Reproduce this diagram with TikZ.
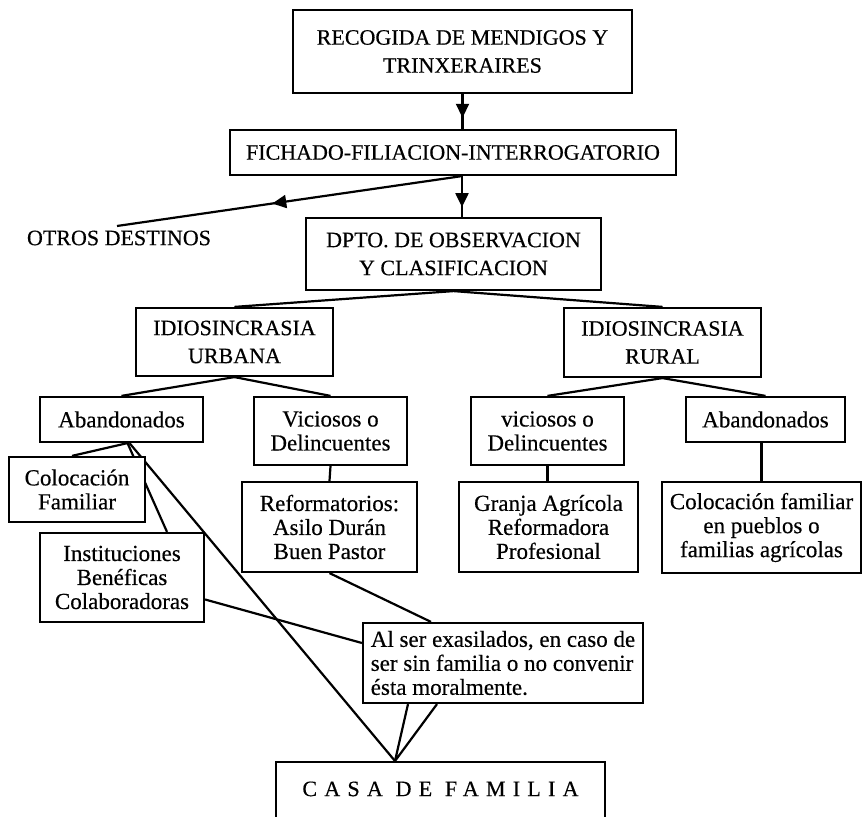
\documentclass[tikz,border=0pt]{standalone}
\usepackage{fontspec}
\setmainfont{Liberation Serif}[FakeBold=0.4]
\usetikzlibrary{arrows.meta,decorations.markings,calc}
\pgfdeclarelayer{bg}
\pgfsetlayers{bg,main}
\tikzset{
  box/.style={draw, line width=1.1pt, fill=white, align=center, inner sep=0pt},
  caps/.style={font=\fontsize{11}{14}\selectfont},
  lower/.style={font=\fontsize{11.5}{12}\selectfont},
  conn/.style={line width=1.1pt},
  midarrow/.style={postaction={decorate},decoration={markings,
     mark=at position #1 with {\arrow{Triangle[length=7pt,width=6.5pt]}}}}
}
\begin{document}
\begin{tikzpicture}[x=0.5pt,y=-0.5pt]
\useasboundingbox (0,0) rectangle (864,817);
% nodes
\node[box,caps,minimum width=169.5pt,minimum height=41.5pt] (rec) at (462.5,51.5) {RECOGIDA DE MENDIGOS Y\\TRINXERAIRES};
\node[box,caps,minimum width=223pt,minimum height=22.5pt] (fich) at (453,152.5) {FICHADO-FILIACION-INTERROGATORIO};
\node[box,caps,minimum width=147.5pt,minimum height=36pt] (dpto) at (453.5,254) {DPTO. DE OBSERVACION\\Y CLASIFICACION};
\node[caps] (otros) at (119,238) {OTROS DESTINOS};
\node[box,caps,minimum width=98.5pt,minimum height=34pt] (urb) at (234.5,342) {IDIOSINCRASIA\\URBANA};
\node[box,caps,minimum width=98.5pt,minimum height=34.5pt] (rur) at (662.5,342.5) {IDIOSINCRASIA\\RURAL};
\node[box,lower,minimum width=81.5pt,minimum height=22.5pt] (abU) at (121.5,419.5) {Abandonados};
\node[box,lower,minimum width=76.5pt,minimum height=34pt] (vicU) at (330.5,431) {Viciosos o\\Delincuentes};
\node[box,lower,minimum width=68pt,minimum height=32.5pt] (colU) at (77,489.5) {Colocación\\Familiar};
\node[box,lower,minimum width=82pt,minimum height=44.5pt] (inst) at (122,577.5) {Instituciones\\Benéficas\\Colaboradoras};
\node[box,lower,minimum width=87.5pt,minimum height=45pt] (ref) at (329.5,527) {Reformatorios:\\Asilo Durán\\Buen Pastor};
\node[box,lower,minimum width=76.5pt,minimum height=34pt] (vicR) at (547.5,431) {viciosos o\\Delincuentes};
\node[box,lower,minimum width=79.5pt,minimum height=22.5pt] (abR) at (765.5,419.5) {Abandonados};
\node[box,lower,minimum width=89.5pt,minimum height=45pt] (granja) at (548.5,527) {Granja Agrícola\\Reformadora\\Profesional};
\node[box,lower,minimum width=99.5pt,minimum height=45.5pt] (colR) at (761.5,527.5) {Colocación familiar\\en pueblos o\\familias agrícolas};
\node[box,lower,align=left,minimum width=140pt,minimum height=40pt] (alser) at (503,663) {Al ser exasilados, en caso de\\ser sin familia o no convenir\\ésta moralmente.};
\node[box,anchor=north,minimum width=164.5pt,inner ysep=0pt,text height=17pt,text depth=30pt,
      font=\fontsize{11}{14}\selectfont\addfontfeature{LetterSpace=33}] (casa) at (440.5,761) {CASA DE FAMILIA};
% connectors
\coordinate (fj) at ([xshift=4.5pt]fich.south);
\coordinate (oe) at (117,226);
\coordinate (cj) at ([xshift=-22.75pt]casa.north);
\coordinate (aj) at ([xshift=3pt]abU.south);
\begin{pgfonlayer}{bg}
\draw[conn,midarrow=0.68] (rec.south) -- (rec.south |- fich.north);
\draw[conn,midarrow=0.76] (fj) -- (fj |- dpto.north);
\draw[conn,midarrow=0.55] (fj) -- (oe);
\draw[conn] (urb.north) -- (dpto.south) -- (rur.north);
\draw[conn] (abU.north) -- (urb.south) -- (vicU.north);
\draw[conn] (vicR.north) -- (rur.south) -- (abR.north);
\draw[conn] (vicU.south) -- (ref.north);
\draw[conn] (vicR.south) -- (vicR.south |- granja.north);
\draw[conn] ([xshift=-2pt]abR.south) -- ([xshift=-2pt]abR.south |- colR.north);
\draw[conn] (aj) -- ([xshift=-2.5pt]colU.north);
\draw[conn] (aj) -- ([xshift=22.5pt]inst.north);
\draw[conn] ([xshift=4pt]abU.south) -- (cj);
\draw[conn] ([yshift=-11pt]inst.east) -- ([yshift=10pt]alser.west);
\draw[conn] (ref.south) -- ([xshift=-36pt]alser.north);
\draw[conn] ([xshift=-47.5pt]alser.south) -- (cj) -- ([xshift=-33pt]alser.south);
\end{pgfonlayer}
\end{tikzpicture}
\end{document}
